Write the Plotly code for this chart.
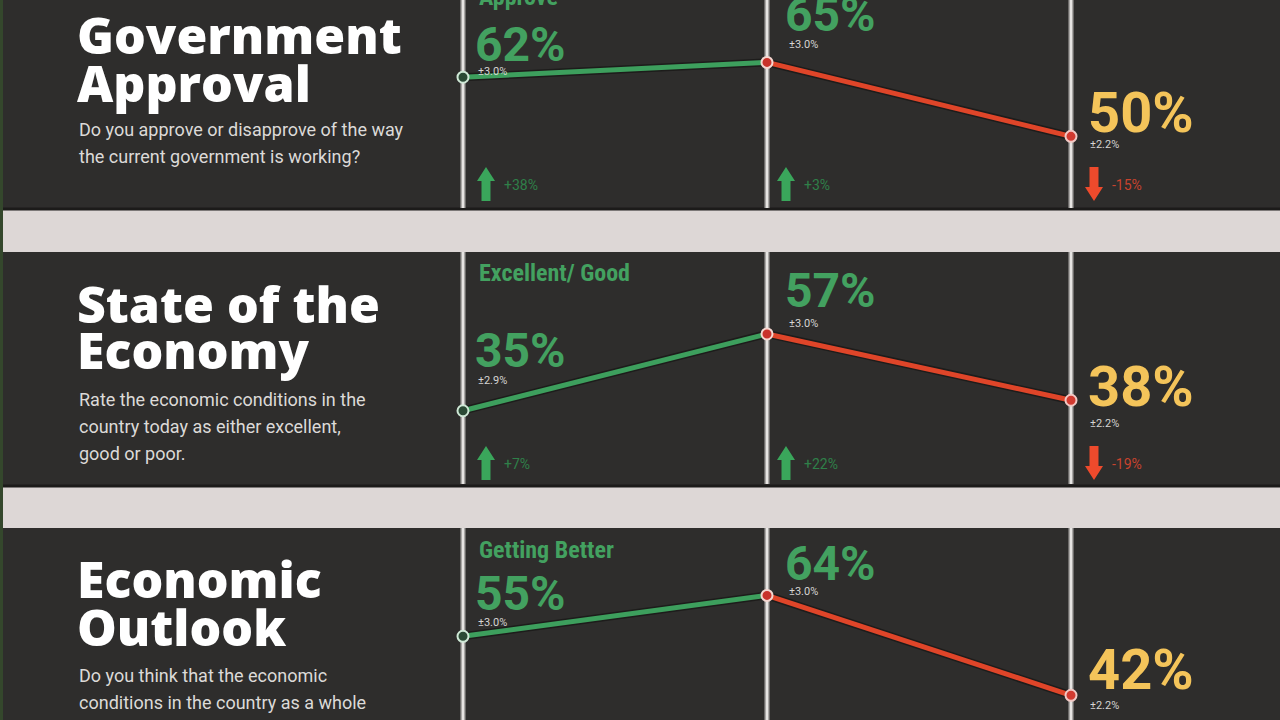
import plotly.graph_objects as go

W, H = 1280, 720

# ---------------- data ----------------
waves = [0, 1, 2]
title_lines = [["Government", "Approval"], ["State of the", "Economy"], ["Economic", "Outlook"]]
questions = [
    ["Do you approve or disapprove of the way", "the current government is working?"],
    ["Rate the economic conditions in the", "country today as either excellent,", "good or poor."],
    ["Do you think that the economic", "conditions in the country as a whole", "are getting better or worse?"],
]
answer_labels = ["Approve", "Excellent/ Good", "Getting Better"]
values_gov = [62, 65, 50]
values_econ = [35, 57, 38]
values_outlook = [55, 64, 42]
moe_gov = ["±3.0%", "±3.0%", "±2.2%"]
moe_econ = ["±2.9%", "±3.0%", "±2.2%"]
moe_outlook = ["±3.0%", "±3.0%", "±2.2%"]
change_gov = [38, 3, -15]
change_econ = [7, 22, -19]
change_outlook = None  # below the visible area

values = [values_gov, values_econ, values_outlook]
moes = [moe_gov, moe_econ, moe_outlook]
changes = [change_gov, change_econ, change_outlook]

# ---------------- style / layout ----------------
BG = "#2e2d2c"
BAND = "#ddd7d6"
GREEN = "#3d9f5d"
GREEN_TXT = "#43a160"
GREEN_DIM = "#2f8049"
RED = "#df4529"
RED_DIM = "#c8432e"
YELLOW = "#f4c45a"

panel_px = [(0, 208), (252, 484), (528, 720)]
y_ranges = [[35.47, 77.66], [14.01, 80.48], [36.56, 78.85]]
x_range = [-1.523, 2.6875]

def px(x):
    return x / W

def py(y):
    return 1 - y / H

big_pos = [
    [(473, 44), (783, 14), (1086, 113)],
    [(473, 350), (783, 290), (1086, 387)],
    [(473, 593), (783, 563), (1086, 670)],
]
moe_pos = [
    [(476, 72), (787, 44), (1088, 145)],
    [(476, 380), (787, 323), (1088, 423)],
    [(476, 622), (787, 591), (1088, 705)],
]
answer_pos = [(477, -3), (477, 273), (477, 550)]
arrow_rows = [(167, 201), (446, 480), None]
arrow_x = [486, 786, 1094]
title_y = [(35, 83), (304, 350), (579, 627)]
question_y = [(129, 156), (399, 426, 453), (675, 702, 729)]

fig = go.Figure()
shapes = []
annotations = []

# separator bands
for (y0, y1) in [(208, 252), (485, 528)]:
    shapes.append(dict(type="rect", xref="paper", yref="paper", x0=0, x1=1,
                       y0=py(y1), y1=py(y0), fillcolor=BAND, line=dict(width=0), layer="below"))
    shapes.append(dict(type="line", xref="paper", yref="paper", x0=0, x1=1,
                       y0=py(y0 + 1), y1=py(y0 + 1), line=dict(color="#1c1b1a", width=3), layer="below"))
# left green strip
shapes.append(dict(type="rect", xref="paper", yref="paper", x0=0, x1=px(3), y0=0, y1=1,
                   fillcolor="#34472c", line=dict(width=0), layer="below"))

for i in range(3):
    yname = "y" if i == 0 else f"y{i+1}"
    top, bot = panel_px[i]
    vals = values[i]
    # vertical guide lines at each wave
    for w in waves:
        shapes.append(dict(type="line", xref="x", yref="paper", x0=w, x1=w,
                           y0=py(bot), y1=py(top), line=dict(color="#a9a7a5", width=5), layer="below"))
        shapes.append(dict(type="line", xref="x", yref="paper", x0=w, x1=w,
                           y0=py(bot), y1=py(top), line=dict(color="#e6e4e2", width=2), layer="below"))
    # dark outline under lines
    fig.add_trace(go.Scatter(x=waves, y=vals, mode="lines", yaxis=yname,
                             line=dict(color="#1d1c1b", width=8), hoverinfo="skip", showlegend=False))
    fig.add_trace(go.Scatter(x=waves[:2], y=vals[:2], mode="lines", yaxis=yname,
                             line=dict(color=GREEN, width=5), showlegend=False))
    fig.add_trace(go.Scatter(x=waves[1:], y=vals[1:], mode="lines", yaxis=yname,
                             line=dict(color=RED, width=5), showlegend=False))
    fig.add_trace(go.Scatter(x=waves, y=vals, mode="markers", yaxis=yname,
                             marker=dict(size=11, color=["#2b4a35", "#c8322a", "#d23a30"],
                                         line=dict(color=["#cfe8d6", "#f4d6d0", "#f2c8c4"], width=2)),
                             showlegend=False))

    # big value labels
    for k in range(3):
        x, y = big_pos[i][k]
        last = k == 2
        annotations.append(dict(xref="paper", yref="paper", x=px(x), y=py(y), xanchor="left", yanchor="middle",
                                text=f"{vals[k]}%", showarrow=False,
                                font=dict(family="Roboto", size=56 if last else 48, weight=700,
                                          color=YELLOW if last else GREEN_TXT)))
        mx, my = moe_pos[i][k]
        annotations.append(dict(xref="paper", yref="paper", x=px(mx), y=py(my), xanchor="left", yanchor="middle",
                                text=moes[i][k], showarrow=False,
                                font=dict(family="Roboto", size=11, color="#d6d4d2")))
    # answer label
    ax_, ay_ = answer_pos[i]
    annotations.append(dict(xref="paper", yref="paper", x=px(ax_), y=py(ay_), xanchor="left", yanchor="middle",
                            text=answer_labels[i], showarrow=False,
                            font=dict(family="Roboto Condensed, Roboto", size=24, weight=700, color=GREEN_TXT)))
    # titles
    for t, line in enumerate(title_lines[i]):
        annotations.append(dict(xref="paper", yref="paper", x=px(75), y=py(title_y[i][t]), xanchor="left",
                                yanchor="middle", text=line, showarrow=False,
                                font=dict(family="Open Sans", size=50, weight=800, color="#ffffff")))
    for t, line in enumerate(questions[i]):
        annotations.append(dict(xref="paper", yref="paper", x=px(77), y=py(question_y[i][t]), xanchor="left",
                                yanchor="middle", text=line, showarrow=False,
                                font=dict(family="Roboto", size=18, color="#dcdad8")))
    # change arrows
    if changes[i] is not None and arrow_rows[i] is not None:
        t0, t1 = arrow_rows[i]
        for k, c in enumerate(changes[i]):
            cx = arrow_x[k]
            up = c >= 0
            hw, sw, hh = 9, 4.5, 14
            if up:
                pts = [(cx, t0), (cx + hw, t0 + hh), (cx + sw, t0 + hh), (cx + sw, t1),
                       (cx - sw, t1), (cx - sw, t0 + hh), (cx - hw, t0 + hh)]
            else:
                pts = [(cx, t1), (cx + hw, t1 - hh), (cx + sw, t1 - hh), (cx + sw, t0),
                       (cx - sw, t0), (cx - sw, t1 - hh), (cx - hw, t1 - hh)]
            path = "M " + " L ".join(f"{px(a):.5f},{py(b):.5f}" for a, b in pts) + " Z"
            shapes.append(dict(type="path", xref="paper", yref="paper", path=path,
                               fillcolor="#3aa65b" if up else "#ee4a2c", line=dict(width=0)))
            annotations.append(dict(xref="paper", yref="paper", x=px(cx + 16), y=py((t0 + t1) / 2 + 1),
                                    xanchor="left", yanchor="middle",
                                    text=(f"+{c}%" if up else f"-{abs(c)}%"), showarrow=False,
                                    font=dict(family="Roboto", size=14, color=GREEN_DIM if up else RED_DIM)))

layout_axes = {}
for i in range(3):
    key = "yaxis" if i == 0 else f"yaxis{i+1}"
    top, bot = panel_px[i]
    layout_axes[key] = dict(domain=[py(bot), py(top)], range=y_ranges[i], visible=False,
                            fixedrange=True, anchor="x")

fig.update_layout(
    width=W, height=H, margin=dict(l=0, r=0, t=0, b=0),
    paper_bgcolor=BG, plot_bgcolor=BG,
    xaxis=dict(domain=[0, 1], range=x_range, visible=False, fixedrange=True),
    shapes=shapes, annotations=annotations, showlegend=False,
    **layout_axes,
)

fig.write_html("out.html", config={"displayModeBar": False},
               post_script="document.body.style.margin='0';")
